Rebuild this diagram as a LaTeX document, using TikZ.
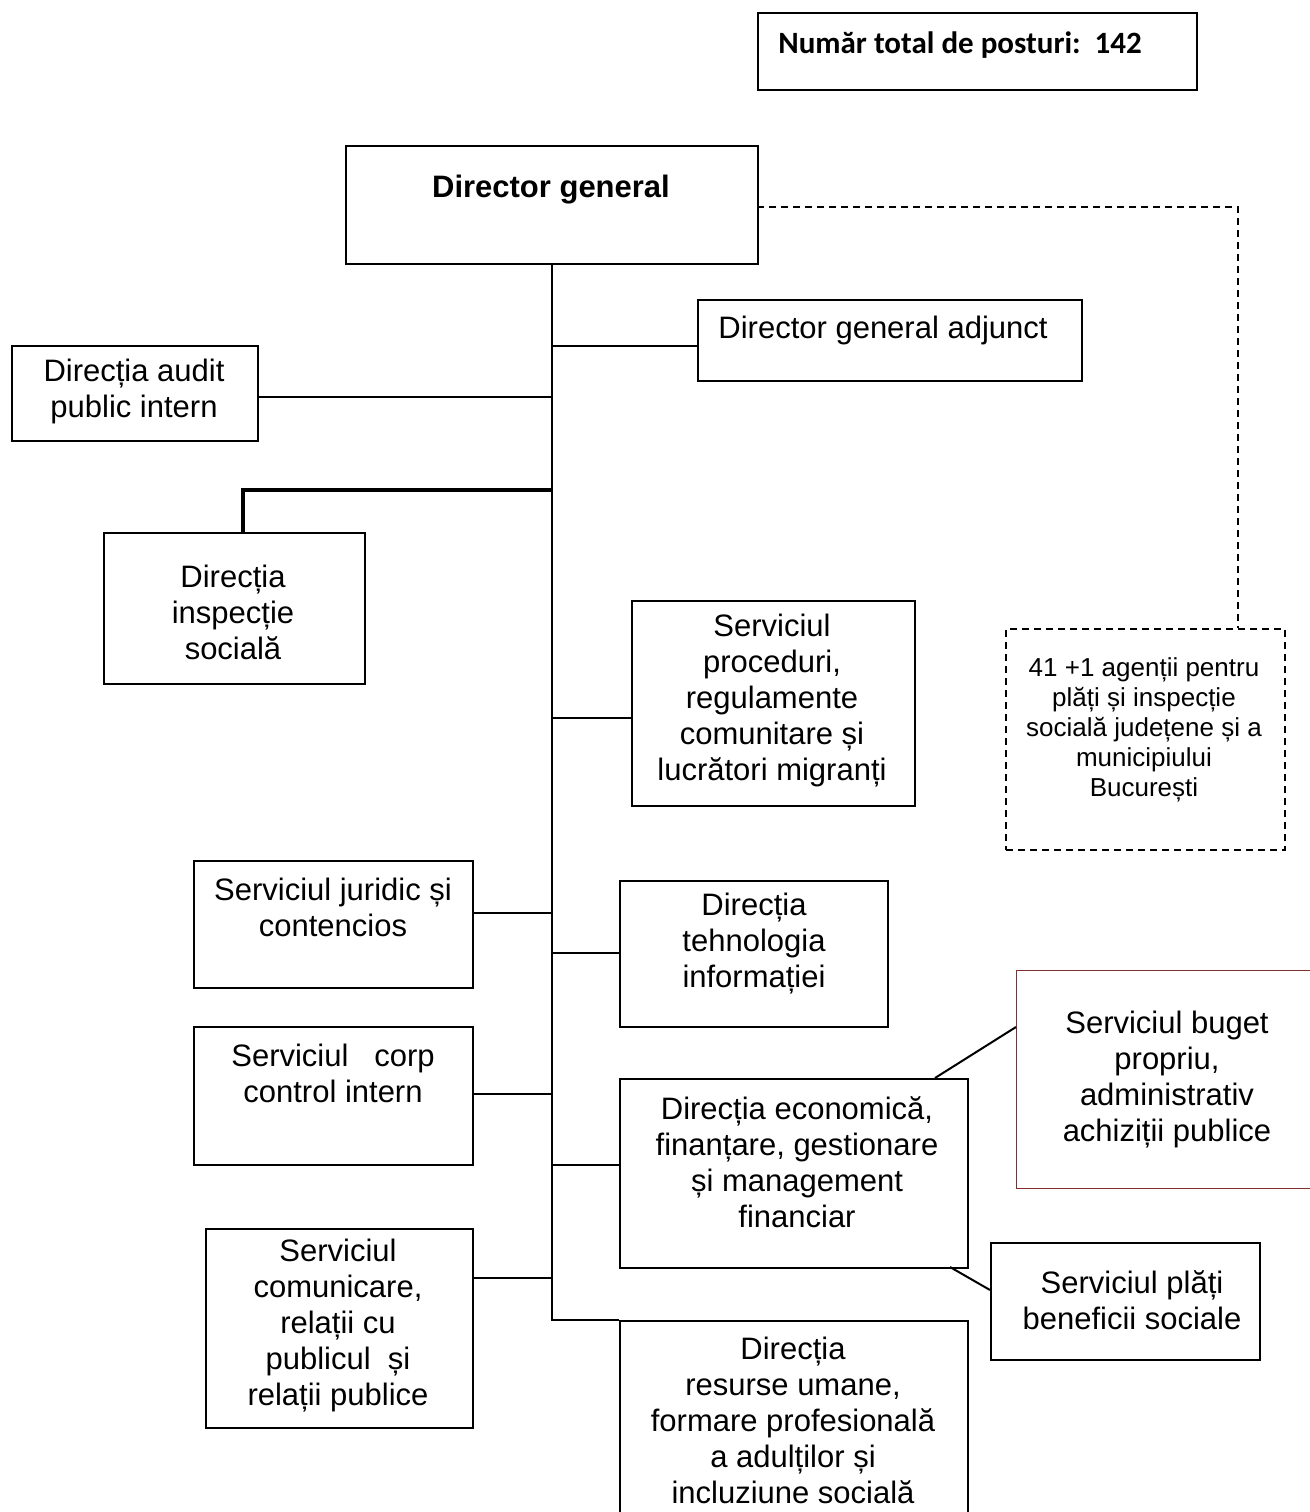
\documentclass[tikz,border=0pt]{standalone}
\usepackage{fontspec}
\setmainfont{Liberation Sans}
\newfontfamily\calibri{Carlito}
\definecolor{budgetred}{RGB}{128,48,48}
\tikzset{
  unit/.style 2 args={draw, line width=1pt, anchor=north west, inner sep=0pt,
    minimum width=#1*0.5pt, minimum height=#2*0.5pt},
  orgtext/.style={align=center, inner sep=0pt, font=\fontsize{15.5}{18}\selectfont},
  smalltext/.style={align=center, inner sep=0pt, font=\fontsize{13}{15}\selectfont},
  link/.style={line width=1pt},
  heavylink/.style={line width=1.6pt},
  agencylink/.style={line width=1pt, dash pattern=on 3.5pt off 2.5pt},
}

\begin{document}
\begin{tikzpicture}[x=0.5pt,y=-0.5pt]
  \useasboundingbox (0,0) rectangle (1310,1512);

  % Total number of posts
  \node[unit={439}{77}] (total) at (757,12) {};
  \node[anchor=west, inner sep=0pt, font=\calibri\bfseries\fontsize{15.5}{18}\selectfont]
    (totaltext) at (778,45) {Număr total de posturi:\ \ 142};

  % Director general
  \node[unit={412}{118}] (dg) at (345,145) {};
  \node[orgtext, font=\bfseries\fontsize{15.5}{18}\selectfont] (dgtext) at (551,190) {Director general};

  % Right hand side of the trunk
  \node[unit={384}{81}] (adj) at (697,299) {};
  \node[orgtext] (adjtext) at (883,330) {Director general adjunct};
  \node[unit={283}{205}] (proc) at (631,600) {};
  \node[orgtext] (proctext) at (772,701) {Serviciul\\proceduri,\\regulamente\\comunitare și\\lucrători migranți};
  \node[unit={268}{146}] (tech) at (619,880) {};
  \node[orgtext] (techtext) at (754,944) {Direcția\\tehnologia\\informației};
  \node[unit={348}{189}] (econ) at (619,1078) {};
  \node[orgtext] (econtext) at (797,1162) {Direcția economică,\\finanțare, gestionare\\și management\\financiar};
  \node[unit={348}{240}] (res) at (619,1320) {};
  \node[orgtext] (restext) at (793,1420) {Direcția\\resurse umane,\\formare profesională\\a adulților și\\incluziune socială};

  % Left hand side of the trunk
  \node[unit={246}{95}] (audit) at (11,345) {};
  \node[orgtext] (audittext) at (134,391) {Direcția audit\\public intern};
  \node[unit={261}{151}] (insp) at (103,532) {};
  \node[orgtext] (insptext) at (233,612) {Direcția\\inspecție\\socială};
  \node[unit={279}{127}] (jur) at (193,860) {};
  \node[orgtext] (jurtext) at (333,907) {Serviciul juridic și\\contencios};
  \node[unit={279}{138}] (corp) at (193,1026) {};
  \node[orgtext] (corptext) at (333,1073) {Serviciul\ \ \ corp\\control intern};
  \node[unit={267}{199}] (com) at (205,1228) {};
  \node[orgtext] (comtext) at (338,1326) {Serviciul\\comunicare,\\relații cu\\publicul\ \ și\\relații publice};

  % Services under the economic direction
  \node[unit={360}{218}, draw=budgetred, line width=0.6pt] (buget) at (1016,970) {};
  \node[orgtext] (bugettext) at (1167,1080) {Serviciul buget\\propriu,\\administrativ\\achiziții publice};
  \node[unit={269}{117}] (plati) at (990,1242) {};
  \node[orgtext] (platitext) at (1132,1300) {Serviciul plăți\\beneficii sociale};

  % County agencies
  \node[unit={279}{221}, agencylink] (agency) at (1005,628) {};
  \node[smalltext] (agencytext) at (1144,730) {41 +1 agenții pentru\\plăți și inspecție\\socială județene și a\\municipiului\\București};

  % The trunk
  \draw[link] (dg.south) |- (res.north west);
  \coordinate (tadj) at (551,346);
  \coordinate (taudit) at (551,397);
  \coordinate (tinsp) at (551,490);
  \coordinate (insptop) at (243,532);
  \coordinate (tproc) at (551,718);
  \coordinate (tjur) at (551,913);
  \coordinate (ttech) at (551,953);
  \coordinate (tcorp) at (551,1094);
  \coordinate (tecon) at (551,1165);
  \coordinate (tcom) at (551,1278);
  \draw[link] (tadj) -- (tadj -| adj.west);
  \draw[link] (taudit) -- (taudit -| audit.east);
  \draw[heavylink] (tinsp) -| (insptop);
  \draw[link] (tproc) -- (tproc -| proc.west);
  \draw[link] (tjur) -- (tjur -| jur.east);
  \draw[line width=1.3pt] (ttech) -- (ttech -| tech.west);
  \draw[link] (tcorp) -- (tcorp -| corp.east);
  \draw[link] (tecon) -- (tecon -| econ.west);
  \draw[link] (tcom) -- (tcom -| com.east);

  % Diagonal links of the economic direction
  \coordinate (econtop) at (935,1078);
  \coordinate (bugetside) at (1016,1027);
  \coordinate (econbottom) at (950,1267);
  \coordinate (platiside) at (990,1290);
  \draw[link] (econtop) -- (bugetside);
  \draw[link] (econbottom) -- (platiside);

  % Dashed link to the agencies
  \coordinate (dgright) at (757,207);
  \coordinate (agencytop) at (1238,628);
  \draw[agencylink] (dgright) -| (agencytop);
\end{tikzpicture}
\end{document}
